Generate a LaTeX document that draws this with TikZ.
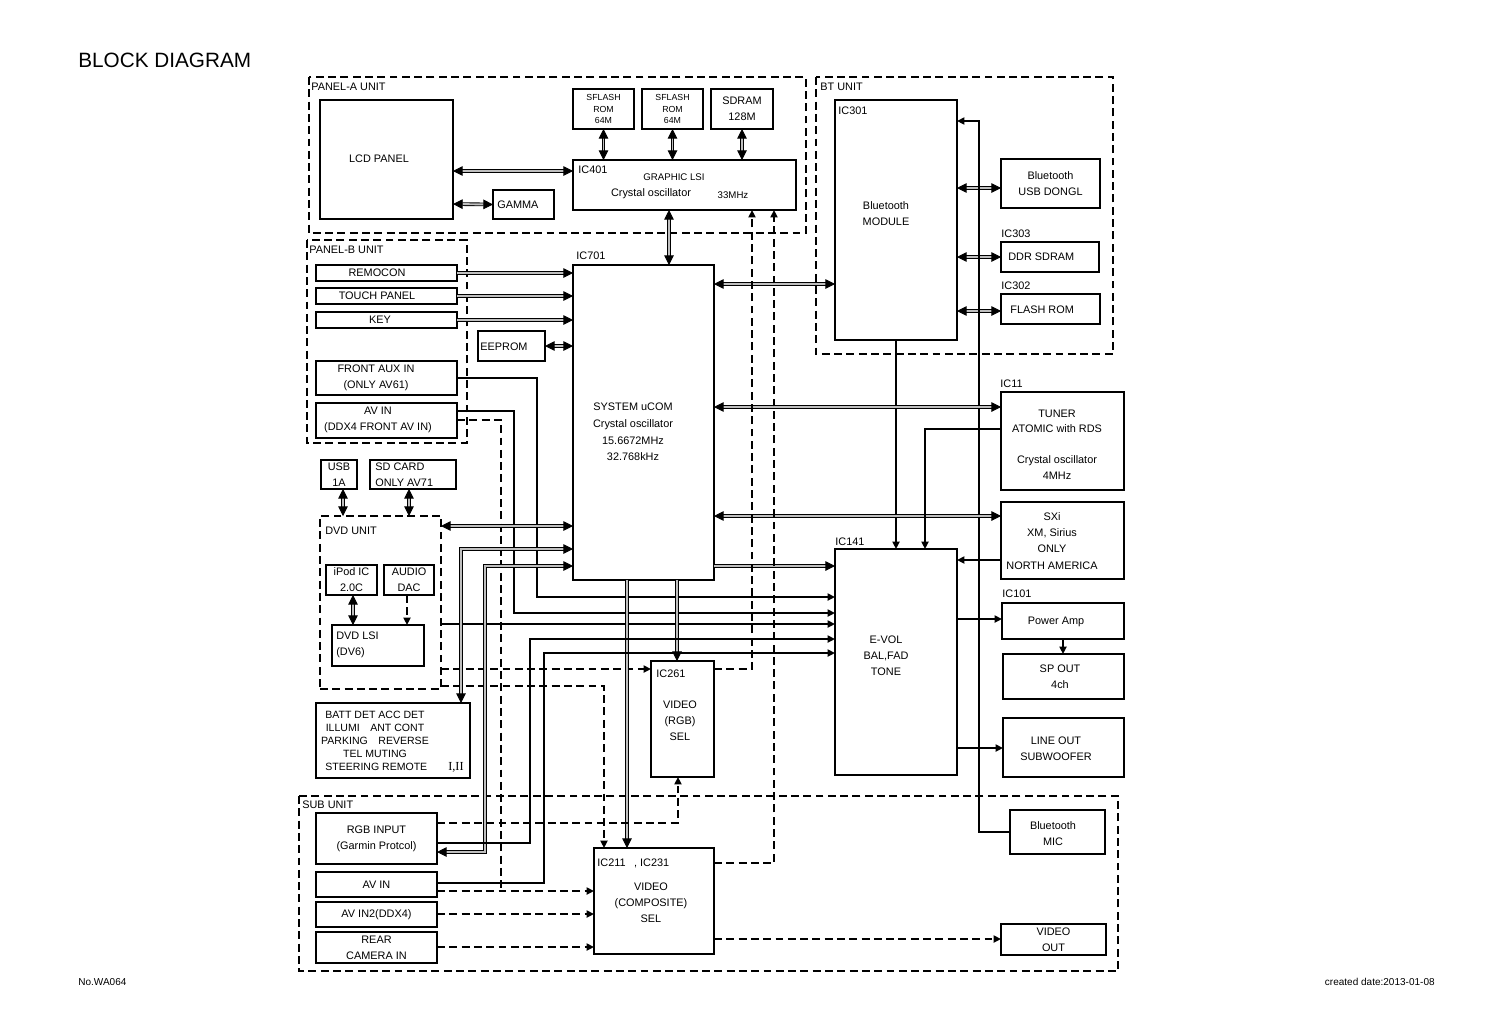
\documentclass[tikz,border=0pt]{standalone}
\usepackage{fontspec}
\setmainfont{Liberation Sans}
\newfontfamily\romanfont{Liberation Serif}
\usetikzlibrary{arrows.meta}

\tikzset{
    blk/.style={draw, line width=0.8pt, inner sep=0pt, outer sep=0pt, align=center,
        font=\fontsize{6.2}{9.2}\selectfont},
    sz/.style 2 args={minimum width=#1*0.02cm, minimum height=#2*0.02cm},
    txt/.style={inner sep=0pt, align=center, font=\fontsize{6.2}{9.2}\selectfont},
    lbl/.style={txt, anchor=west},
    unit/.style={line width=1.1pt, dash pattern=on 4.5pt off 2.5pt},
    dbl/.style={double=black!25, double distance=1.1pt, line width=0.5pt,
        >={Triangle[length=5.5pt,width=5.5pt]}},
    thk/.style={line width=1.3pt, >={Triangle[length=4.2pt,width=4pt]}},
    dsh/.style={line width=1.3pt, dash pattern=on 4.5pt off 2.5pt,
        >={Triangle[length=4.2pt,width=4pt]}},
}

\begin{document}
\begin{tikzpicture}[x=0.02cm, y=-0.02cm]
    \useasboundingbox (0,0) rectangle (1500,1019);

    % Title and footer
    \node[lbl, font=\fontsize{11.8}{14}\selectfont] (title) at (78,60) {BLOCK DIAGRAM};
    \node[lbl, font=\fontsize{5.7}{7}\selectfont] (docno) at (78,982) {No.WA064};
    \node[txt, anchor=east, font=\fontsize{5.7}{7}\selectfont] (date) at (1435,982) {created date:2013-01-08};

    % Units
    \draw[unit] (309,77) rectangle (806,233);
    \node[lbl] (panAlbl) at (311,87) {PANEL-A UNIT};
    \draw[unit] (816,77) rectangle (1113,354);
    \node[lbl] (btulbl) at (820,87) {BT UNIT};
    \draw[unit] (307,240) rectangle (467,443);
    \node[lbl] (panBlbl) at (309,250) {PANEL-B UNIT};
    \draw[unit] (299,796) rectangle (1118,971);
    \node[lbl] (sublbl) at (302,805) {SUB UNIT};
    \node[blk, unit, sz={121}{173}] (dvd) at (380.5,602.5) {};
    \node[lbl] (dvdlbl) at (325,531) {DVD UNIT};

    % Panel-A
    \node[blk, sz={133}{119}] (lcd) at (386.5,159.5) {};
    \node[txt] (lcdT) at (379,159) {LCD PANEL};
    \node[blk, sz={61}{29}] (gamma) at (523.5,204.5) {};
    \node[lbl] (gammaT) at (497,205) {GAMMA};
    \node[blk, sz={61}{40}, font=\fontsize{5}{6.8}\selectfont] (sfa) at (603.5,109) {SFLASH\\ROM\\64M};
    \node[blk, sz={61}{40}, font=\fontsize{5}{6.8}\selectfont] (sfb) at (672.5,109) {SFLASH\\ROM\\64M};
    \node[blk, sz={62}{40}] (sdram) at (742,109) {SDRAM\\128M};
    \node[blk, sz={223}{50}] (gfx) at (684.5,185) {};
    \node[lbl] (gfxic) at (578,170) {IC401};
    \node[txt, font=\fontsize{5.5}{7}\selectfont] (gfxT) at (674,177) {GRAPHIC LSI};
    \node[txt] (gfxosc) at (651,194) {Crystal oscillator};
    \node[txt, font=\fontsize{5.5}{7}\selectfont] (gfxhz) at (733,195) {33MHz};

    % BT unit
    \node[blk, sz={122}{240}] (bt) at (896,220) {};
    \node[lbl] (btic) at (838,111) {IC301};
    \node[txt] (btT) at (886,214) {Bluetooth\\MODULE};
    \node[blk, sz={99}{49}] (dongle) at (1050.5,183.5) {Bluetooth\\USB DONGL};
    \node[blk, sz={98}{30}] (ddr) at (1050,257) {};
    \node[lbl] (ddric) at (1001,234) {IC303};
    \node[lbl] (ddrT) at (1008,257) {DDR SDRAM};
    \node[blk, sz={99}{30}] (flash) at (1050.5,309) {};
    \node[lbl] (flashic) at (1001,286) {IC302};
    \node[lbl] (flashT) at (1010,310) {FLASH ROM};

    % Panel-B
    \node[blk, sz={141}{16}] (remo) at (386.5,273) {};
    \node[txt] (remoT) at (377,273) {REMOCON};
    \node[blk, sz={141}{16}] (touch) at (386.5,296) {};
    \node[txt] (touchT) at (377,296) {TOUCH PANEL};
    \node[blk, sz={141}{16}] (key) at (386.5,320) {};
    \node[txt] (keyT) at (380,320) {KEY};
    \node[blk, sz={67}{30}] (eeprom) at (511.5,346) {};
    \node[lbl] (eepromT) at (480,347) {EEPROM};
    \node[blk, sz={141}{34}] (faux) at (386.5,378) {};
    \node[txt] (fauxT) at (376,378) {FRONT AUX IN\\(ONLY AV61)};
    \node[blk, sz={141}{35}] (avf) at (386.5,420.5) {};
    \node[txt] (avfT) at (378,420) {AV IN\\(DDX4 FRONT AV IN)};

    % System uCOM
    \node[blk, sz={141}{315}] (ucom) at (643.5,422.5) {};
    \node[lbl] (ucomic) at (576,256) {IC701};
    \node[txt, font=\fontsize{6.2}{9.4}\selectfont] (ucomT) at (633,432) {SYSTEM uCOM\\Crystal oscillator\\15.6672MHz\\32.768kHz};

    % DVD side
    \node[blk, sz={36}{29}] (usb) at (339,474.5) {USB\\1A};
    \node[blk, sz={86}{29}] (sd) at (413,474.5) {};
    \node[lbl, align=left] (sdT) at (375,475) {SD CARD\\ONLY AV71};
    \node[blk, sz={51}{30}] (ipod) at (351.5,580) {iPod IC\\2.0C};
    \node[blk, sz={50}{30}] (dac) at (409,580) {AUDIO\\DAC};
    \node[blk, sz={92}{41}] (lsi) at (378,645.5) {};
    \node[lbl, align=left] (lsiT) at (336,645) {DVD LSI\\(DV6)};
    \node[blk, sz={154}{75}] (batt) at (393,740.5) {};
    \node[txt, font=\fontsize{6}{7.4}\selectfont] (battT) at (375,734.5) {BATT DET ACC DET\\ILLUMI\quad ANT CONT\\PARKING\quad REVERSE\\TEL MUTING};
    \node[lbl, font=\fontsize{6}{7.4}\selectfont] (battS) at (325,767) {STEERING REMOTE};
    \node[txt, font=\romanfont\fontsize{7}{8}\selectfont] (battR) at (456,767) {I,II};

    % Audio side
    \node[blk, sz={122}{226}] (evol) at (896,662) {};
    \node[lbl] (evolic) at (835,542) {IC141};
    \node[txt] (evolT) at (886,656) {E-VOL\\BAL,FAD\\TONE};
    \node[blk, sz={123}{98}] (tuner) at (1062.5,441) {};
    \node[lbl] (tuneric) at (1000,384) {IC11};
    \node[txt, font=\fontsize{6.2}{8.9}\selectfont] (tunerT) at (1057,444.5) {TUNER\\ATOMIC with RDS\\[8.5pt]Crystal oscillator\\4MHz};
    \node[blk, sz={123}{77}] (sxi) at (1062.5,540.5) {};
    \node[txt] (sxiT) at (1052,541) {SXi\\XM, Sirius\\ONLY\\NORTH AMERICA};
    \node[blk, sz={122}{36}] (amp) at (1063,621) {};
    \node[lbl] (ampic) at (1002,594) {IC101};
    \node[txt] (ampT) at (1056,622) {Power Amp};
    \node[blk, sz={121}{45}] (spout) at (1063.5,676.5) {};
    \node[txt] (spoutT) at (1060,677) {SP OUT\\4ch};
    \node[blk, sz={121}{59}] (lineout) at (1063.5,747.5) {};
    \node[txt] (lineoutT) at (1056,749) {LINE OUT\\SUBWOOFER};
    \node[blk, sz={95}{44}] (mic) at (1057.5,832) {};
    \node[txt] (micT) at (1053,834) {Bluetooth\\MIC};

    % Video side
    \node[blk, sz={63}{116}] (rgbsel) at (682.5,719) {};
    \node[lbl] (rgbselic) at (656,674) {IC261};
    \node[txt] (rgbselT) at (680,721) {VIDEO\\(RGB)\\SEL};
    \node[blk, sz={121}{51}] (rgbin) at (376.5,838.5) {RGB INPUT\\(Garmin Protcol)};
    \node[blk, sz={121}{25}] (avin) at (376.5,884.5) {AV IN};
    \node[blk, sz={121}{25}] (avin2) at (376.5,914.5) {AV IN2(DDX4)};
    \node[blk, sz={121}{31}] (cam) at (376.5,947.5) {REAR\\CAMERA IN};
    \node[blk, sz={120}{106}] (compsel) at (654,901) {};
    \node[lbl] (compselic) at (597,863) {IC211\enspace\ , IC231};
    \node[txt] (compselT) at (651,903) {VIDEO\\(COMPOSITE)\\SEL};
    \node[blk, sz={105}{31}] (vout) at (1053.5,939.5) {VIDEO\\OUT};

    % Panel-A links
    \draw[dbl,<->] (lcd.east |- 0,171) -- (gfx.west |- 0,171);
    \draw[dbl,<->] (lcd.east |- 0,204) -- (gamma.west);
    \foreach \m in {sfa,sfb,sdram}{
        \draw[dbl,<->] (\m.south) -- (\m.south |- gfx.north);
    }
    \draw[dbl,<->] (gfx.south -| 669,0) -- (ucom.north -| 669,0);

    % BT links
    \draw[dbl,<->] (ucom.east |- 0,284) -- (bt.west |- 0,284);
    \draw[dbl,<->] (bt.east |- 0,188) -- (dongle.west |- 0,188);
    \draw[dbl,<->] (bt.east |- ddr.west) -- (ddr.west);
    \draw[dbl,<->] (bt.east |- 0,311) -- (flash.west |- 0,311);
    \draw[thk,->] (mic.west) -| (979,121) -- (bt.east |- 0,121);
    \draw[thk,->] (bt.south) -- (bt.south |- evol.north);

    % Panel-B links
    \foreach \k in {remo,touch,key}{
        \draw[dbl,->] (\k.east) -- (\k.east -| ucom.west);
    }
    \draw[dbl,<->] (eeprom.east) -- (eeprom.east -| ucom.west);
    \draw[thk,->] (faux.east) -| (537,597) -- (evol.west |- 0,597);
    \draw[thk,->] (avf.east |- 0,411) -| (514,613) -- (evol.west |- 0,613);
    \draw[dsh] (avf.east |- 0,420) -| (501,891);

    % Tuner, SXi, outputs
    \draw[dbl,<->] (ucom.east |- 0,407) -- (tuner.west |- 0,407);
    \draw[dbl,<->] (ucom.east |- 0,516) -- (sxi.west |- 0,516);
    \draw[dbl,->] (ucom.east |- 0,566) -- (evol.west |- 0,566);
    \draw[thk,->] (tuner.west |- 0,429) -| (evol.north -| 925,0);
    \draw[thk,->] (sxi.west |- 0,560) -- (evol.east |- 0,560);
    \draw[thk,->] (evol.east |- 0,619) -- (amp.west |- 0,619);
    \draw[thk,->] (amp.south -| 1063,0) -- (spout.north -| 1063,0);
    \draw[thk,->] (evol.east |- 0,748) -- (lineout.west |- 0,748);

    % DVD links
    \draw[dbl,<->] (usb.south -| 343,0) -- (dvd.north -| 343,0);
    \draw[dbl,<->] (sd.south -| 409,0) -- (dvd.north -| 409,0);
    \draw[dbl,<->] (dvd.east |- 0,526) -- (ucom.west |- 0,526);
    \draw[dbl,<->] (ipod.south -| 353,0) -- (lsi.north -| 353,0);
    \draw[dsh,->] (dac.south -| 407,0) -- (lsi.north -| 407,0);
    \draw[thk,->] (dvd.east |- 0,624) -- (evol.west |- 0,624);
    \draw[dsh,->] (dvd.east |- 0,669) -- (rgbsel.west |- 0,669);
    \draw[dsh,->] (dvd.east |- 0,686) -| (compsel.north -| 604,0);

    % uCOM to video and sub unit
    \draw[dbl,<->] (batt.north -| 461,0) |- (ucom.west |- 0,549);
    \draw[dbl,<->] (rgbin.east |- 0,852) -| (485,566) -- (ucom.west |- 0,566);
    \draw[dbl,->] (ucom.south -| 677,0) -- (rgbsel.north -| 677,0);
    \draw[dbl,->] (ucom.south -| 627,0) -- (compsel.north -| 627,0);
    \draw[thk,->] (rgbin.east |- 0,843) -| (530,639) -- (evol.west |- 0,639);
    \draw[thk,->] (avin.east |- 0,883) -| (544,653) -- (evol.west |- 0,653);
    \draw[dsh,->] (rgbin.east |- 0,823) -| (rgbsel.south -| 678,0);

    % Video selectors
    \draw[dsh,->] (avin.east |- 0,891) -- (compsel.west |- 0,891);
    \draw[dsh,->] (avin2.east |- 0,914) -- (compsel.west |- 0,914);
    \draw[dsh,->] (cam.east |- 0,947) -- (compsel.west |- 0,947);
    \draw[dsh,->] (compsel.east |- 0,939) -- (vout.west |- 0,939);
    \draw[dsh,->] (rgbsel.east |- 0,669) -| (gfx.south -| 752,0);
    \draw[dsh,->] (compsel.east |- 0,863) -| (gfx.south -| 774,0);
\end{tikzpicture}
\end{document}
